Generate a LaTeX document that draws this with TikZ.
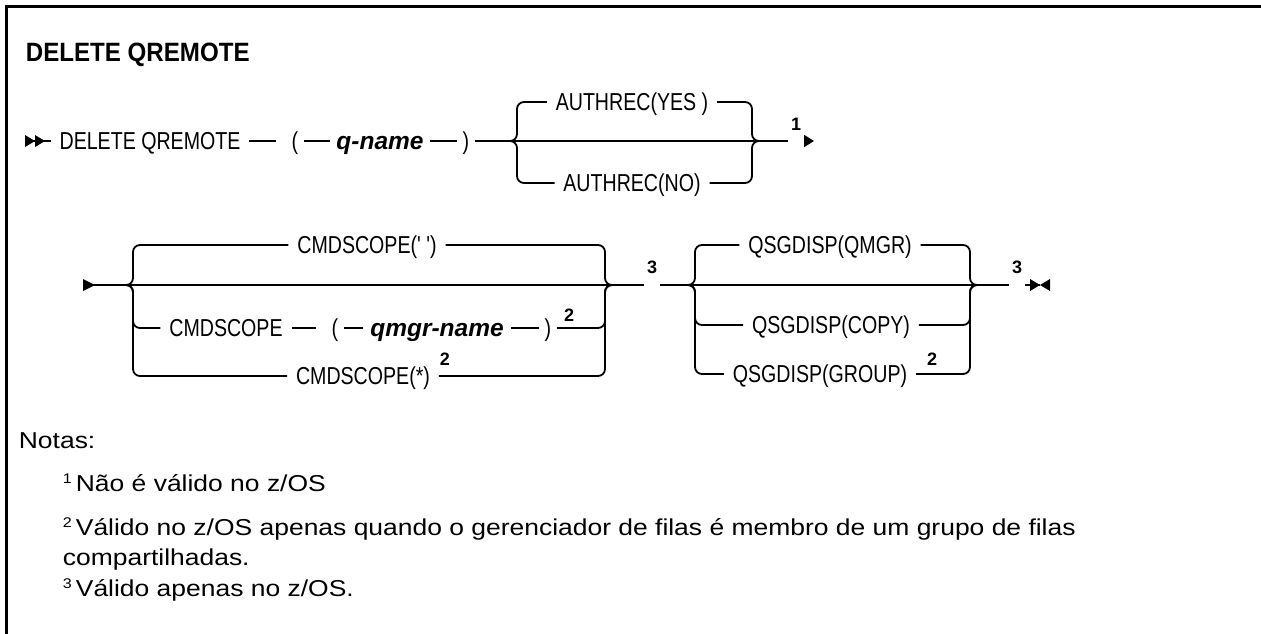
\documentclass[tikz,border=0pt]{standalone}
\usepackage{fontspec}
\setmainfont{Liberation Sans}
\newfontfamily\kwfont[FakeStretch=0.8]{Liberation Sans}
\newfontfamily\varfont[FakeStretch=1.0]{Liberation Sans}
\newfontfamily\ttlfont[FakeStretch=0.91]{Liberation Sans}
\newfontfamily\notefont[FakeStretch=1.15]{Liberation Sans}
\usetikzlibrary{arrows.meta}
\begin{document}
\begin{tikzpicture}[x=1pt,y=-1pt,line width=1.8pt,
  kw/.style={font=\kwfont\fontsize{24.5}{24.5}\selectfont, text height=17.5pt, text depth=0pt, inner xsep=8pt, inner ysep=0pt},
  var/.style={font=\varfont\fontsize{24.5}{24.5}\selectfont\bfseries\itshape, text height=17.5pt, text depth=0pt, inner xsep=6pt, inner ysep=0pt},
  par/.style={kw, inner xsep=5pt},
  sup/.style={font=\fontsize{18}{18}\selectfont\bfseries, inner sep=2pt, anchor=base},
  br/.style={rounded corners=7pt},
  note/.style={font=\notefont\fontsize{23}{23}\selectfont, anchor=base west, inner sep=0pt},
  nsup/.style={font=\notefont\fontsize{14}{14}\selectfont, anchor=base west, inner sep=0pt},
]
\useasboundingbox (0,0) rectangle (1261,634);
\fill[white] (0,0) rectangle (1261,634);
\draw[line width=3pt] (6.5,634) -- (6.5,6.5) -- (1261,6.5);

\node[font=\ttlfont\fontsize{26.5}{26.5}\selectfont\bfseries, anchor=base west, inner sep=0pt] (title) at (25,62) {DELETE QREMOTE};

% ---------- row 1
\coordinate (s1) at (25,141);
\node[kw] (dq) at (150,141) {DELETE QREMOTE};
\node[par] (lp1) at (295,141) {(};
\node[var] (qn) at (380,141) {q-name};
\node[par] (rp1) at (466,141) {)};
\coordinate (lb1) at (510,141);
\coordinate (rb1) at (760,141);
\node[kw] (ay) at (632,102) {AUTHREC(YES )};
\node[kw] (an) at (632,183) {AUTHREC(NO)};
\node[sup] (n1) at (796,130) {1};
\coordinate (e1) at (814,141);

\fill (s1) ++(0,-6) -- ++(10,6) -- ++(-10,6) -- cycle;
\fill ([xshift=10pt]s1) ++(0,-6) -- ++(10,6) -- ++(-10,6) -- cycle;
\draw (s1) -- (dq.west);
\draw[shorten >=10pt] (dq.east) -- (lp1.west);
\draw (lp1.east) -- (qn.west);
\draw (qn.east) -- (rp1.west);
\draw (rp1.east) -- (lb1) -- (rb1) -- (n1.west |- rb1);
\draw[br] (lb1) -- ++(7,0) |- (ay.west);
\draw[br] (lb1) -- ++(7,0) |- (an.west);
\draw[br] (ay.east) -| ([xshift=-8pt]rb1) -- (rb1);
\draw[br] (an.east) -| ([xshift=-8pt]rb1) -- (rb1);
\draw[-{Triangle[length=10pt,width=12pt]}] (n1.east |- e1) -- (e1);

% ---------- row 2
\coordinate (s2) at (83,285);
\coordinate (lb2) at (126,285);
\coordinate (rb2) at (613,285);
\node[kw] (c1) at (367,245) {CMDSCOPE(' ')};
\node[kw] (c2) at (226,328) {CMDSCOPE};
\node[par] (lp2) at (335,328) {(};
\node[var] (qm) at (437,328) {qmgr-name};
\node[par] (rp2) at (548,328) {)};
\node[sup] (n2a) at (569,321) {2};
\node[kw] (c3) at (363,376) {CMDSCOPE(*)};
\node[sup] (n2b) at (445,365) {2};
\node[sup] (n3a) at (652,273) {3};
\coordinate (lb3) at (688,285);
\coordinate (rb3) at (980,285);
\node[kw] (q1) at (830,245) {QSGDISP(QMGR)};
\node[kw] (q2) at (831,325) {QSGDISP(COPY)};
\node[kw] (q3) at (820,374) {QSGDISP(GROUP)};
\node[sup] (n2c) at (932,365) {2};
\node[sup] (n3b) at (1017,273) {3};
\coordinate (e2) at (1040,285);

\fill (s2) ++(0,-6) -- ++(12,6) -- ++(-12,6) -- cycle;
\draw (s2) -- (lb2) -- (rb2) -- (n3a.west |- rb2);
\draw (n3a.east |- rb2) -- (lb3) -- (rb3) -- (n3b.west |- rb3);
\draw (n3b.east |- rb3) -- (e2);
\fill (e2) ++(-10,-6) -- ++(10,6) -- ++(-10,6) -- cycle;
\fill (e2) ++(10,-6) -- ++(-10,6) -- ++(10,6) -- cycle;

\draw[br] (lb2) -- ++(7,0) |- (c1.west);
\draw[br] (lb2) -- ++(7,0) |- (c2.west);
\draw[br] (lb2) -- ++(7,0) |- (c3.west);
\draw[br] (c1.east) -| ([xshift=-8pt]rb2) -- (rb2);
\draw[br] (rp2.east) -| ([xshift=-8pt]rb2) -- (rb2);
\draw[br] (c3.east) -| ([xshift=-8pt]rb2) -- (rb2);
\draw[shorten >=10pt] (c2.east) -- (lp2.west);
\draw (lp2.east) -- (qm.west);
\draw (qm.east) -- (rp2.west);

\draw[br] (lb3) -- ++(7,0) |- (q1.west);
\draw[br] (lb3) -- ++(7,0) |- (q2.west);
\draw[br] (lb3) -- ++(7,0) |- (q3.west);
\draw[br] (q1.east) -| ([xshift=-10pt]rb3) -- (rb3);
\draw[br] (q2.east) -| ([xshift=-10pt]rb3) -- (rb3);
\draw[br] (q3.east) -| ([xshift=-10pt]rb3) -- (rb3);

% ---------- notes
\node[note] (nt) at (18,448) {Notas:};
\node[nsup] (f1s) at (62,483) {1};
\node[note] (f1) at (75,491) {Não é válido no z/OS};
\node[nsup] (f2s) at (62,527) {2};
\node[note] (f2) at (75,535) {Válido no z/OS apenas quando o gerenciador de filas é membro de um grupo de filas};
\node[note] (f2b) at (62,565) {compartilhadas.};
\node[nsup] (f3s) at (62,588) {3};
\node[note] (f3) at (75,596) {Válido apenas no z/OS.};
\end{tikzpicture}
\end{document}
